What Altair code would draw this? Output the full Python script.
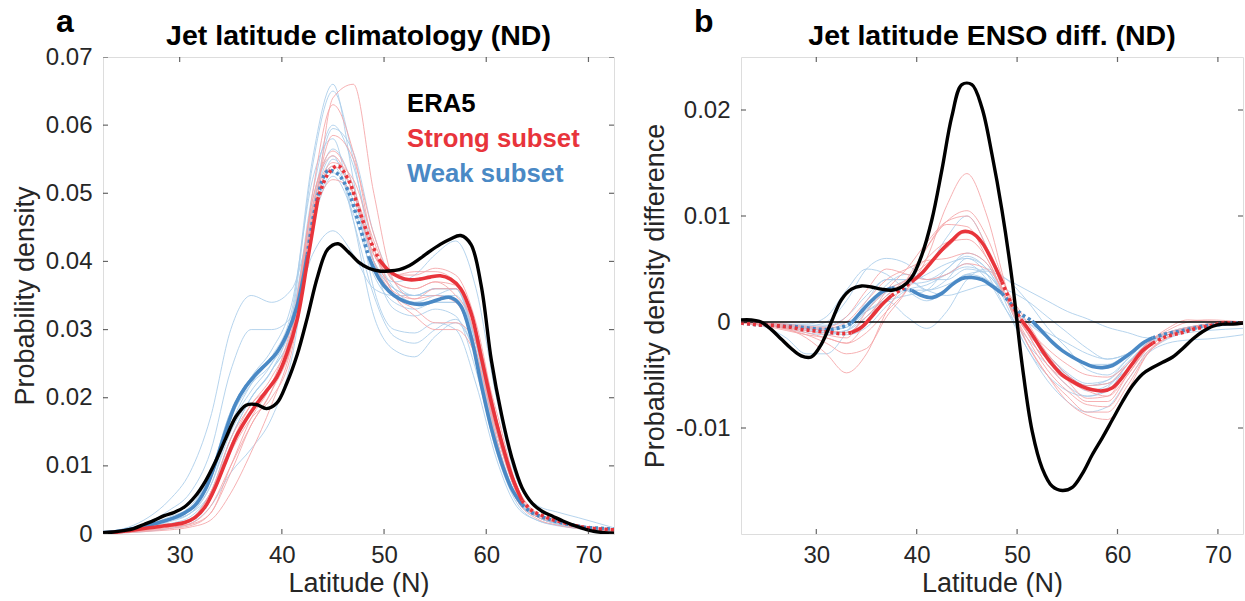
import altair as alt
import pandas as pd

FONT = "Liberation Sans"
AXIS_COLOR = "#262626"
RED = "#E8343B"
BLUE = "#4A89C5"
RED_THIN = "#F4A3A6"
BLUE_THIN = "#A9CDEA"

# ---------------- latitude grids ----------------
GRID = [22.5 + i for i in range(51)]          # 22.5 ... 72.5, thick curves
THIN = [22.5, 25, 27, 29, 31, 33, 35, 37, 39, 41, 43, 45, 47, 49,
        51, 53, 55, 57, 59, 61, 63, 65, 67, 69, 72.5]  # thin member curves

# ---------------- panel a : climatology ----------------
ERA5_A = [0.0002, 0.0003, 0.0005, 0.0008, 0.0014, 0.0020, 0.0027, 0.0032, 0.0040, 0.0055,
          0.0077, 0.0106, 0.0140, 0.0172, 0.0189, 0.0190, 0.0184, 0.0192, 0.0222, 0.0263,
          0.0318, 0.0378, 0.0418, 0.0426, 0.0414, 0.0399, 0.0390, 0.0386, 0.0386, 0.0388,
          0.0394, 0.0404, 0.0415, 0.0425, 0.0433, 0.0438, 0.0425, 0.0365, 0.0255, 0.0175,
          0.0112, 0.0068, 0.0045, 0.0033, 0.0026, 0.0019, 0.0013, 0.0008, 0.0004, 0.0002,
          0.0001]
STRONG_A = [0.0001, 0.0002, 0.0004, 0.0006, 0.0008, 0.0010, 0.0012, 0.0014, 0.0017, 0.0024,
            0.0040, 0.0069, 0.0106, 0.0142, 0.0168, 0.0190, 0.0210, 0.0230, 0.0265, 0.0315,
            0.0400, 0.0490, 0.0528, 0.0540, 0.0520, 0.0478, 0.0436, 0.0403, 0.0386, 0.0377,
            0.0373, 0.0374, 0.0377, 0.0379, 0.0374, 0.0360, 0.0325, 0.0260, 0.0193, 0.0135,
            0.0085, 0.0049, 0.0034, 0.0027, 0.0021, 0.0017, 0.0013, 0.0010, 0.0008, 0.0007,
            0.0006]
WEAK_A = [0.0002, 0.0003, 0.0005, 0.0008, 0.0011, 0.0015, 0.0019, 0.0024, 0.0031, 0.0042,
          0.0065, 0.0104, 0.0151, 0.0192, 0.0217, 0.0235, 0.0250, 0.0266, 0.0293, 0.0335,
          0.0410, 0.0495, 0.0533, 0.0528, 0.0503, 0.0457, 0.0407, 0.0375, 0.0356, 0.0345,
          0.0339, 0.0337, 0.0340, 0.0345, 0.0347, 0.0335, 0.0290, 0.0220, 0.0155, 0.0104,
          0.0066, 0.0043, 0.0031, 0.0025, 0.0020, 0.0016, 0.0013, 0.0010, 0.0009, 0.0008,
          0.0007]
STRONG_A_DOTTED = [(43.5, 49.5), (63.5, 72.5)]
WEAK_A_DOTTED = [(42.5, 48.5), (63.5, 72.5)]

STRONG_MEMBERS_A = [
    [0.0001, 0.0003, 0.0006, 0.0010, 0.0015, 0.0040, 0.0100, 0.0160, 0.0210, 0.0280, 0.0440, 0.0640, 0.0660, 0.0500, 0.0370, 0.0345, 0.0350, 0.0340, 0.0270, 0.0140, 0.0050, 0.0022, 0.0013, 0.0008, 0.0004],
    [0.0001, 0.0004, 0.0008, 0.0012, 0.0020, 0.0050, 0.0120, 0.0170, 0.0200, 0.0270, 0.0500, 0.0630, 0.0560, 0.0420, 0.0355, 0.0345, 0.0360, 0.0360, 0.0300, 0.0170, 0.0070, 0.0030, 0.0018, 0.0010, 0.0005],
    [0.0001, 0.0003, 0.0007, 0.0012, 0.0020, 0.0060, 0.0130, 0.0180, 0.0220, 0.0280, 0.0470, 0.0585, 0.0550, 0.0440, 0.0370, 0.0360, 0.0370, 0.0365, 0.0285, 0.0150, 0.0060, 0.0025, 0.0017, 0.0010, 0.0005],
    [0.0002, 0.0006, 0.0010, 0.0014, 0.0022, 0.0060, 0.0140, 0.0190, 0.0230, 0.0300, 0.0490, 0.0562, 0.0510, 0.0410, 0.0380, 0.0380, 0.0390, 0.0380, 0.0310, 0.0170, 0.0065, 0.0030, 0.0020, 0.0012, 0.0007],
    [0.0001, 0.0004, 0.0008, 0.0012, 0.0018, 0.0050, 0.0130, 0.0190, 0.0220, 0.0290, 0.0490, 0.0555, 0.0500, 0.0410, 0.0380, 0.0385, 0.0385, 0.0370, 0.0300, 0.0160, 0.0060, 0.0030, 0.0020, 0.0012, 0.0006],
    [0.0001, 0.0003, 0.0006, 0.0010, 0.0014, 0.0030, 0.0100, 0.0170, 0.0220, 0.0310, 0.0480, 0.0545, 0.0520, 0.0430, 0.0370, 0.0360, 0.0370, 0.0350, 0.0300, 0.0160, 0.0060, 0.0028, 0.0018, 0.0011, 0.0006],
    [0.0001, 0.0003, 0.0005, 0.0008, 0.0012, 0.0030, 0.0090, 0.0160, 0.0210, 0.0300, 0.0460, 0.0520, 0.0500, 0.0420, 0.0350, 0.0320, 0.0300, 0.0300, 0.0260, 0.0150, 0.0060, 0.0030, 0.0020, 0.0012, 0.0006],
    [0.0001, 0.0002, 0.0004, 0.0006, 0.0010, 0.0020, 0.0060, 0.0120, 0.0190, 0.0280, 0.0470, 0.0540, 0.0500, 0.0400, 0.0350, 0.0330, 0.0310, 0.0310, 0.0280, 0.0180, 0.0070, 0.0030, 0.0020, 0.0013, 0.0007],
]
WEAK_MEMBERS_A = [
    [0.0002, 0.0005, 0.0010, 0.0020, 0.0030, 0.0070, 0.0160, 0.0220, 0.0260, 0.0330, 0.0550, 0.0660, 0.0520, 0.0360, 0.0300, 0.0295, 0.0310, 0.0300, 0.0220, 0.0110, 0.0040, 0.0020, 0.0012, 0.0008, 0.0004],
    [0.0002, 0.0006, 0.0012, 0.0020, 0.0030, 0.0060, 0.0140, 0.0200, 0.0240, 0.0320, 0.0540, 0.0650, 0.0550, 0.0400, 0.0330, 0.0320, 0.0330, 0.0320, 0.0240, 0.0120, 0.0045, 0.0020, 0.0013, 0.0008, 0.0004],
    [0.0002, 0.0006, 0.0012, 0.0022, 0.0035, 0.0080, 0.0170, 0.0220, 0.0250, 0.0310, 0.0500, 0.0600, 0.0540, 0.0420, 0.0360, 0.0340, 0.0340, 0.0340, 0.0260, 0.0130, 0.0050, 0.0025, 0.0015, 0.0010, 0.0005],
    [0.0001, 0.0005, 0.0010, 0.0018, 0.0030, 0.0070, 0.0150, 0.0200, 0.0240, 0.0300, 0.0480, 0.0595, 0.0560, 0.0440, 0.0370, 0.0350, 0.0350, 0.0350, 0.0280, 0.0140, 0.0055, 0.0025, 0.0016, 0.0010, 0.0005],
    [0.0002, 0.0007, 0.0014, 0.0025, 0.0040, 0.0090, 0.0180, 0.0230, 0.0260, 0.0310, 0.0480, 0.0565, 0.0510, 0.0400, 0.0350, 0.0340, 0.0350, 0.0360, 0.0280, 0.0140, 0.0050, 0.0028, 0.0020, 0.0013, 0.0008],
    [0.0003, 0.0010, 0.0025, 0.0050, 0.0090, 0.0170, 0.0300, 0.0350, 0.0340, 0.0360, 0.0460, 0.0525, 0.0470, 0.0380, 0.0340, 0.0330, 0.0340, 0.0340, 0.0260, 0.0130, 0.0050, 0.0025, 0.0015, 0.0010, 0.0005],
    [0.0003, 0.0008, 0.0018, 0.0035, 0.0060, 0.0120, 0.0240, 0.0300, 0.0300, 0.0320, 0.0410, 0.0445, 0.0410, 0.0360, 0.0350, 0.0350, 0.0360, 0.0360, 0.0280, 0.0150, 0.0060, 0.0030, 0.0020, 0.0013, 0.0008],
    [0.0002, 0.0006, 0.0012, 0.0020, 0.0035, 0.0080, 0.0170, 0.0230, 0.0270, 0.0340, 0.0520, 0.0580, 0.0460, 0.0320, 0.0270, 0.0260, 0.0290, 0.0310, 0.0260, 0.0130, 0.0050, 0.0025, 0.0015, 0.0010, 0.0005],
    [0.0002, 0.0006, 0.0012, 0.0022, 0.0035, 0.0080, 0.0160, 0.0210, 0.0250, 0.0320, 0.0480, 0.0555, 0.0460, 0.0350, 0.0290, 0.0280, 0.0300, 0.0315, 0.0260, 0.0135, 0.0055, 0.0028, 0.0018, 0.0011, 0.0006],
    [0.0001, 0.0004, 0.0008, 0.0015, 0.0025, 0.0060, 0.0140, 0.0200, 0.0240, 0.0300, 0.0460, 0.0540, 0.0480, 0.0400, 0.0370, 0.0380, 0.0410, 0.0430, 0.0360, 0.0200, 0.0080, 0.0042, 0.0032, 0.0024, 0.0009],
    [0.0001, 0.0002, 0.0004, 0.0008, 0.0015, 0.0040, 0.0090, 0.0125, 0.0170, 0.0260, 0.0450, 0.0550, 0.0500, 0.0400, 0.0360, 0.0350, 0.0360, 0.0360, 0.0280, 0.0140, 0.0050, 0.0025, 0.0015, 0.0010, 0.0005],
    [0.0002, 0.0007, 0.0013, 0.0023, 0.0037, 0.0090, 0.0180, 0.0230, 0.0260, 0.0310, 0.0460, 0.0530, 0.0490, 0.0400, 0.0360, 0.0350, 0.0360, 0.0360, 0.0270, 0.0130, 0.0050, 0.0027, 0.0018, 0.0011, 0.0007],
]

# ---------------- panel b : ENSO difference ----------------
ERA5_B = [0.0002, 0.0002, 0.0000, -0.0007, -0.0016, -0.0025, -0.0032, -0.0033, -0.0021, 0.0000,
          0.0021, 0.0031, 0.0034, 0.0033, 0.0031, 0.0030, 0.0033, 0.0042, 0.0063, 0.0096,
          0.0143, 0.0194, 0.0224, 0.0224, 0.0202, 0.0158, 0.0105, 0.0040, -0.0040, -0.0103,
          -0.0138, -0.0155, -0.0159, -0.0156, -0.0143, -0.0125, -0.0109, -0.0092, -0.0075, -0.0060,
          -0.0049, -0.0043, -0.0038, -0.0033, -0.0025, -0.0016, -0.0009, -0.0004, -0.0002, -0.0002,
          -0.0001]
STRONG_B = [-0.0001, -0.0002, -0.0003, -0.0003, -0.0004, -0.0005, -0.0007, -0.0008, -0.0009, -0.0010,
            -0.0011, -0.0010, -0.0005, 0.0005, 0.0016, 0.0025, 0.0031, 0.0038, 0.0046, 0.0057,
            0.0068, 0.0077, 0.0085, 0.0084, 0.0075, 0.0058, 0.0038, 0.0016, 0.0001, -0.0012,
            -0.0027, -0.0040, -0.0050, -0.0056, -0.0061, -0.0064, -0.0065, -0.0062, -0.0052, -0.0039,
            -0.0027, -0.0020, -0.0015, -0.0012, -0.0010, -0.0007, -0.0005, -0.0003, -0.0001, -0.0001,
            -0.0001]
WEAK_B = [-0.0001, -0.0002, -0.0003, -0.0003, -0.0004, -0.0004, -0.0005, -0.0006, -0.0007, -0.0007,
          -0.0005, -0.0001, 0.0010, 0.0020, 0.0028, 0.0032, 0.0031, 0.0030, 0.0025, 0.0023,
          0.0027, 0.0035, 0.0041, 0.0042, 0.0040, 0.0034, 0.0027, 0.0016, 0.0007, 0.0001,
          -0.0009, -0.0019, -0.0027, -0.0033, -0.0038, -0.0042, -0.0043, -0.0041, -0.0035, -0.0028,
          -0.0020, -0.0015, -0.0012, -0.0010, -0.0008, -0.0006, -0.0004, -0.0003, -0.0002, -0.0001,
          -0.0001]
STRONG_B_DOTTED = [(22.5, 33.5), (37.5, 39.5), (48.5, 50.5), (63.5, 72.5)]
WEAK_B_DOTTED = [(22.5, 33.5), (37.5, 39.5), (48.5, 51.5), (63.5, 72.5)]

STRONG_MEMBERS_B = [
    [-0.0001, -0.0003, -0.0006, -0.0010, -0.0015, -0.0020, -0.0010, 0.0010, 0.0030, 0.0060, 0.0110, 0.0140, 0.0100, 0.0030, -0.0020, -0.0050, -0.0070, -0.0085, -0.0085, -0.0060, -0.0030, -0.0015, -0.0008, -0.0003, -0.0001],
    [0.0000, -0.0002, -0.0006, -0.0015, -0.0030, -0.0048, -0.0030, 0.0010, 0.0040, 0.0070, 0.0095, 0.0105, 0.0080, 0.0030, -0.0010, -0.0040, -0.0060, -0.0075, -0.0075, -0.0050, -0.0025, -0.0012, -0.0006, -0.0002, 0.0000],
    [-0.0001, -0.0004, -0.0008, -0.0012, -0.0015, -0.0020, 0.0000, 0.0030, 0.0050, 0.0075, 0.0095, 0.0100, 0.0070, 0.0020, -0.0020, -0.0050, -0.0075, -0.0088, -0.0092, -0.0065, -0.0030, -0.0014, -0.0007, -0.0003, -0.0001],
    [0.0000, -0.0002, -0.0005, -0.0008, -0.0012, -0.0015, 0.0010, 0.0030, 0.0040, 0.0060, 0.0075, 0.0078, 0.0060, 0.0020, -0.0010, -0.0030, -0.0050, -0.0060, -0.0058, -0.0040, -0.0020, -0.0010, -0.0005, -0.0002, 0.0000],
    [0.0000, -0.0001, -0.0003, -0.0005, -0.0006, 0.0000, 0.0020, 0.0040, 0.0050, 0.0058, 0.0060, 0.0065, 0.0055, 0.0020, -0.0010, -0.0040, -0.0055, -0.0065, -0.0070, -0.0050, -0.0025, -0.0012, -0.0006, -0.0002, 0.0000],
    [-0.0001, -0.0003, -0.0007, -0.0012, -0.0020, -0.0030, -0.0025, 0.0005, 0.0030, 0.0070, 0.0092, 0.0090, 0.0060, 0.0020, -0.0015, -0.0045, -0.0065, -0.0078, -0.0080, -0.0055, -0.0028, -0.0014, -0.0007, -0.0003, -0.0001],
    [0.0000, -0.0002, -0.0004, -0.0006, -0.0008, -0.0010, 0.0005, 0.0025, 0.0040, 0.0055, 0.0070, 0.0085, 0.0070, 0.0030, 0.0000, -0.0030, -0.0055, -0.0072, -0.0070, -0.0045, -0.0020, -0.0008, 0.0000, 0.0002, 0.0000],
    [0.0000, -0.0001, -0.0002, -0.0004, -0.0005, 0.0005, 0.0030, 0.0050, 0.0045, 0.0040, 0.0045, 0.0055, 0.0050, 0.0025, -0.0005, -0.0025, -0.0040, -0.0050, -0.0052, -0.0040, -0.0020, -0.0006, 0.0002, 0.0001, 0.0000],
]
WEAK_MEMBERS_B = [
    [0.0000, -0.0002, -0.0004, -0.0006, -0.0008, -0.0005, 0.0015, 0.0030, 0.0040, 0.0050, 0.0080, 0.0100, 0.0070, 0.0020, -0.0020, -0.0040, -0.0060, -0.0070, -0.0065, -0.0040, -0.0020, -0.0010, -0.0005, -0.0002, 0.0000],
    [0.0000, -0.0002, -0.0003, -0.0004, 0.0000, 0.0020, 0.0050, 0.0060, 0.0055, 0.0040, 0.0040, 0.0050, 0.0045, 0.0020, -0.0005, -0.0030, -0.0050, -0.0065, -0.0060, -0.0040, -0.0020, -0.0012, -0.0006, -0.0002, 0.0000],
    [-0.0001, -0.0003, -0.0005, -0.0008, -0.0010, -0.0008, 0.0005, 0.0020, 0.0030, 0.0030, 0.0035, 0.0045, 0.0048, 0.0040, 0.0030, 0.0020, 0.0010, 0.0003, -0.0005, -0.0010, -0.0015, -0.0012, -0.0008, -0.0004, -0.0001],
    [0.0000, -0.0005, -0.0015, -0.0030, -0.0030, -0.0010, 0.0020, 0.0040, 0.0040, 0.0030, 0.0040, 0.0060, 0.0050, 0.0020, -0.0010, -0.0030, -0.0050, -0.0060, -0.0055, -0.0035, -0.0018, -0.0010, -0.0005, -0.0002, 0.0000],
    [-0.0001, -0.0003, -0.0005, -0.0007, -0.0010, -0.0010, 0.0005, 0.0025, 0.0035, 0.0045, 0.0055, 0.0060, 0.0045, 0.0010, -0.0025, -0.0055, -0.0075, -0.0085, -0.0080, -0.0055, -0.0030, -0.0020, -0.0017, -0.0016, -0.0012],
    [0.0000, -0.0001, -0.0002, -0.0002, 0.0005, 0.0030, 0.0050, 0.0045, 0.0030, 0.0020, 0.0030, 0.0045, 0.0040, 0.0020, 0.0000, -0.0015, -0.0030, -0.0040, -0.0040, -0.0030, -0.0018, -0.0012, -0.0008, -0.0005, -0.0002],
    [0.0000, -0.0002, -0.0003, -0.0005, -0.0007, -0.0005, 0.0010, 0.0020, 0.0005, -0.0006, 0.0010, 0.0040, 0.0050, 0.0040, 0.0020, -0.0005, -0.0025, -0.0045, -0.0050, -0.0035, -0.0018, -0.0010, -0.0006, -0.0003, -0.0001],
    [-0.0001, -0.0003, -0.0006, -0.0010, -0.0012, -0.0008, 0.0010, 0.0035, 0.0045, 0.0040, 0.0050, 0.0065, 0.0055, 0.0015, -0.0025, -0.0050, -0.0065, -0.0070, -0.0062, -0.0040, -0.0020, -0.0010, -0.0005, -0.0002, 0.0000],
    [0.0000, -0.0001, -0.0002, -0.0003, -0.0003, 0.0000, 0.0010, 0.0020, 0.0025, 0.0030, 0.0050, 0.0062, 0.0050, 0.0020, 0.0000, -0.0010, -0.0020, -0.0030, -0.0035, -0.0030, -0.0020, -0.0014, -0.0010, -0.0008, -0.0006],
    [-0.0001, -0.0002, -0.0004, -0.0006, -0.0009, -0.0012, -0.0005, 0.0015, 0.0030, 0.0035, 0.0045, 0.0055, 0.0040, 0.0010, -0.0015, -0.0035, -0.0050, -0.0060, -0.0058, -0.0045, -0.0028, -0.0016, -0.0009, -0.0004, -0.0001],
    [0.0000, -0.0002, -0.0004, -0.0005, -0.0004, 0.0005, 0.0025, 0.0040, 0.0040, 0.0030, 0.0025, 0.0030, 0.0035, 0.0030, 0.0020, 0.0005, -0.0010, -0.0025, -0.0035, -0.0030, -0.0018, -0.0010, -0.0006, -0.0003, -0.0001],
    [0.0000, -0.0001, -0.0003, -0.0005, -0.0006, -0.0003, 0.0012, 0.0028, 0.0035, 0.0038, 0.0045, 0.0052, 0.0045, 0.0022, -0.0005, -0.0030, -0.0048, -0.0058, -0.0055, -0.0038, -0.0020, -0.0012, -0.0007, -0.0003, -0.0001],
]

X_TICKS = [30, 40, 50, 60, 70]
Y_TICKS_A = [0, 0.01, 0.02, 0.03, 0.04, 0.05, 0.06, 0.07]
Y_TICKS_B = [-0.01, 0, 0.01, 0.02]
X_DOMAIN = [22.5, 72.5]
Y_DOMAIN_A = [0, 0.07]
Y_DOMAIN_B = [-0.02, 0.025]
LEGEND = [("ERA5", "black"), ("Strong subset", RED), ("Weak subset", BLUE)]
TITLES = ["Jet latitude climatology (ND)", "Jet latitude ENSO diff. (ND)"]
LETTERS = ["a", "b"]


def members_df(member_lists, prefix):
    rows = []
    for k, vals in enumerate(member_lists):
        for la, v in zip(THIN, vals):
            rows.append({"member": f"{prefix}{k}", "lat": la, "val": v})
    return pd.DataFrame(rows)


def segments_df(vals, dotted, name):
    bps = sorted(set([GRID[0], GRID[-1]] + [b for r in dotted for b in r]))
    rows = []
    for i in range(len(bps) - 1):
        a, b = bps[i], bps[i + 1]
        style = "dotted" if any(r[0] <= a and b <= r[1] for r in dotted) else "solid"
        for la, v in zip(GRID, vals):
            if a <= la <= b:
                rows.append({"seg": f"{name}{i}", "style": style, "lat": la, "val": v})
    return pd.DataFrame(rows)


def label_expr():
    return ("datum.value == 0 ? '0' : (datum.value < 0 ? '-' : '') + "
            "format(abs(datum.value), '.2f')")


def panel(title, letter, width, era5, strong, weak, strong_dot, weak_dot,
          strong_members, weak_members, y_domain, y_ticks, y_title, zero_line, legend):
    x_enc = alt.X("lat:Q", scale=alt.Scale(domain=X_DOMAIN, nice=False, zero=False),
                  axis=alt.Axis(values=X_TICKS, ticks=False, domain=False, grid=False,
                                labelFontSize=24, labelPadding=9, labelColor=AXIS_COLOR,
                                labelFont=FONT, title="Latitude (N)", titleFontSize=27,
                                titleFont=FONT, titleFontWeight="normal",
                                titleColor=AXIS_COLOR, titlePadding=3))
    y_enc = alt.Y("val:Q", scale=alt.Scale(domain=y_domain, nice=False, zero=False),
                  axis=alt.Axis(values=y_ticks, ticks=False, domain=False, grid=False,
                                labelExpr=label_expr(), labelFontSize=24, labelPadding=11,
                                labelColor=AXIS_COLOR, labelFont=FONT, title=y_title,
                                titleFontSize=27, titleFont=FONT, titleFontWeight="normal",
                                titleColor=AXIS_COLOR, titlePadding=6))

    layers = []
    layers.append(alt.Chart(members_df(weak_members, "w")).mark_line(
        color=BLUE_THIN, strokeWidth=1, opacity=0.85, interpolate="monotone", clip=True
    ).encode(x=x_enc, y=y_enc, detail="member:N"))
    layers.append(alt.Chart(members_df(strong_members, "s")).mark_line(
        color=RED_THIN, strokeWidth=1, opacity=0.85, interpolate="monotone", clip=True
    ).encode(x=x_enc, y=y_enc, detail="member:N"))
    if zero_line:
        layers.append(alt.Chart(pd.DataFrame({"val": [0]})).mark_rule(
            color="black", strokeWidth=1.3).encode(y=y_enc))
    for vals, dot, name, col in [(weak, weak_dot, "weak", BLUE), (strong, strong_dot, "strong", RED)]:
        df = segments_df(vals, dot, name)
        layers.append(alt.Chart(df[df["style"] == "solid"]).mark_line(
            color=col, strokeWidth=3.6, interpolate="catmull-rom", clip=True
        ).encode(x=x_enc, y=y_enc, detail="seg:N"))
        layers.append(alt.Chart(df[df["style"] == "dotted"]).mark_line(
            color=col, strokeWidth=3.6, strokeDash=[3, 3], strokeCap="butt",
            interpolate="catmull-rom", clip=True
        ).encode(x=x_enc, y=y_enc, detail="seg:N"))
    layers.append(alt.Chart(pd.DataFrame({"lat": GRID, "val": era5})).mark_line(
        color="black", strokeWidth=3.4, interpolate="catmull-rom", clip=True
    ).encode(x=x_enc, y=y_enc))

    # inward ticks on all four sides
    xt = pd.DataFrame({"lat": X_TICKS})
    yt = pd.DataFrame({"val": y_ticks})
    for yd in y_domain:
        layers.append(alt.Chart(xt).mark_tick(orient="vertical", size=10, thickness=1.2,
                                               color=AXIS_COLOR, clip=True)
                      .encode(x=x_enc, y=alt.datum(yd)))
    for xd in X_DOMAIN:
        layers.append(alt.Chart(yt).mark_tick(orient="horizontal", size=10, thickness=1.2,
                                               color=AXIS_COLOR, clip=True)
                      .encode(y=y_enc, x=alt.datum(xd)))

    if legend:
        for i, (txt, col) in enumerate(LEGEND):
            layers.append(alt.Chart(pd.DataFrame({"t": [txt]})).mark_text(
                align="left", baseline="alphabetic", fontSize=25.7, fontWeight="bold",
                font=FONT, color=col
            ).encode(text="t:N", x=alt.value(304), y=alt.value(55 + 35 * i)))

    # panel letter and panel title
    layers.append(alt.Chart(pd.DataFrame({"t": [letter]})).mark_text(
        align="left", baseline="alphabetic", fontSize=32, fontWeight="bold",
        font=FONT, color="black"
    ).encode(text="t:N", x=alt.value(-47), y=alt.value(-25)))
    layers.append(alt.Chart(pd.DataFrame({"t": [title]})).mark_text(
        align="center", baseline="alphabetic", fontSize=28.5, fontWeight="bold",
        font=FONT, color="black"
    ).encode(text="t:N", x=alt.value(width / 2), y=alt.value(-12)))

    return alt.layer(*layers).properties(width=width, height=477)


pa = panel(TITLES[0], LETTERS[0], 511, ERA5_A, STRONG_A, WEAK_A,
           STRONG_A_DOTTED, WEAK_A_DOTTED, STRONG_MEMBERS_A, WEAK_MEMBERS_A,
           Y_DOMAIN_A, Y_TICKS_A, "Probability density", False, True)
pb = panel(TITLES[1], LETTERS[1], 502, ERA5_B, STRONG_B, WEAK_B,
           STRONG_B_DOTTED, WEAK_B_DOTTED, STRONG_MEMBERS_B, WEAK_MEMBERS_B,
           Y_DOMAIN_B, Y_TICKS_B, "Probability density difference", True, False)

chart = alt.hconcat(pa, pb, spacing=25).resolve_scale(x="independent", y="independent").properties(
    padding={"left": 10, "top": 5, "right": 0, "bottom": 0}
).configure_view(stroke=AXIS_COLOR, strokeWidth=1.2).configure(background="white")

chart.save("out.html", embed_options={"renderer": "svg", "actions": False})
